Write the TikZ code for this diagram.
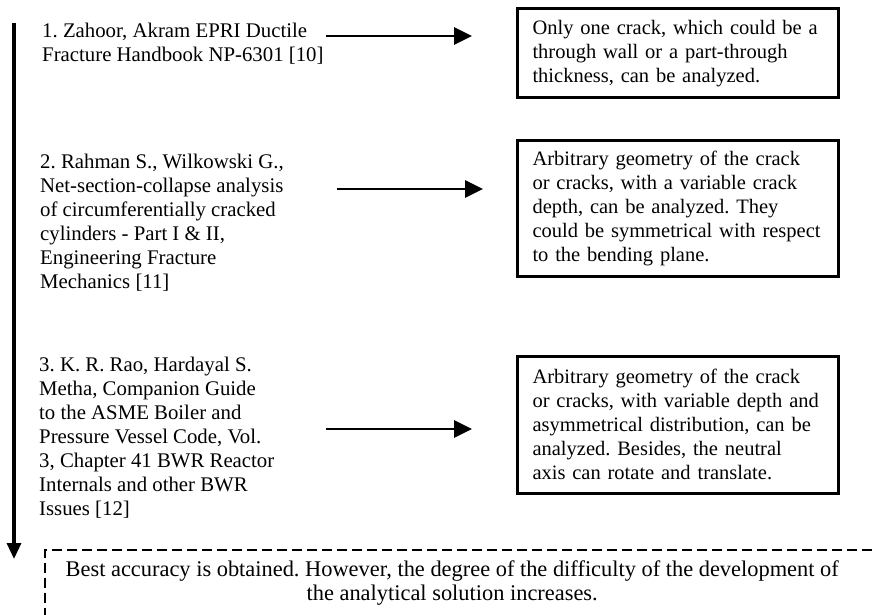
\documentclass[tikz,border=0pt]{standalone}
\usepackage{fontspec}
\setmainfont{Liberation Serif}
\usetikzlibrary{arrows.meta,positioning}
\frenchspacing

\begin{document}
\begin{tikzpicture}[
  x=1pt, y=1pt,
  txt/.style={font=\fontsize{20.5}{24}\selectfont},
  ref/.style={font=\fontsize{20.8}{24}\selectfont, anchor=north west, align=left, inner sep=0pt},
  resbox/.style={txt, draw, line width=3pt, anchor=north west, align=left, text width=290pt, inner xsep=15.5pt, inner ysep=0pt, minimum width=321pt},
  arr/.style={-{Triangle[length=18pt,width=17pt]}, line width=2.7pt},
  flow/.style={-{Triangle[length=16pt,width=14pt]}, line width=3.2pt},
  dashframe/.style={dash pattern=on 10pt off 5pt, line width=1.5pt}
]
\useasboundingbox (0,0) rectangle (872,-615);

% references on the left
\node[ref] (ref1) at (42,-23) {1. Zahoor, Akram EPRI Ductile\\ Fracture Handbook NP-6301 [10]};
\node[ref] (ref2) at (40,-154) {2. Rahman S., Wilkowski G.,\\ Net-section-collapse analysis\\ of circumferentially cracked\\ cylinders - Part I \& II,\\ Engineering Fracture\\ Mechanics [11]};
\node[ref] (ref3) at (39,-357) {3. K. R. Rao, Hardayal S.\\ Metha, Companion Guide\\ to the ASME Boiler and\\ Pressure Vessel Code, Vol.\\ 3, Chapter 41 BWR Reactor\\ Internals and other BWR\\ Issues [12]};

% what each method can handle
\node[resbox, minimum height=89pt] (box1) at (515.5,-7.5) {Only one crack, which could be a\\ through wall or a part-through\\ thickness, can be analyzed.};
\node[resbox, minimum height=136pt] (box2) at (515.5,-138.5) {Arbitrary geometry of the crack\\ or cracks, with a variable crack\\ depth, can be analyzed. They\\ could be symmetrical with respect\\ to the bending plane.};
\node[resbox, minimum height=137pt] (box3) at (515.5,-354.5) {Arbitrary geometry of the crack\\ or cracks, with variable depth and\\ asymmetrical distribution, can be\\ analyzed. Besides, the neutral\\ axis can rotate and translate.};

% conclusion, open frame
\node[font=\fontsize{22.4}{24}\selectfont, anchor=north west, align=center, inner sep=0pt, minimum width=814pt, minimum height=66pt] (best) at (45,-550) {Best accuracy is obtained. However, the degree of the difficulty of the development of\\ the analytical solution increases.};
\draw[dashframe] ([xshift=13pt]best.north east) -- (best.north west) -- (best.south west);

% arrows
\coordinate (a1) at (326,-36);
\coordinate (a2) at (337,-189);
\coordinate (a3) at (326,-429);
\draw[arr, shorten >=43.5pt] (a1) -- (a1 -| box1.west);
\draw[arr, shorten >=32.5pt] (a2) -- (a2 -| box2.west);
\draw[arr, shorten >=43.5pt] (a3) -- (a3 -| box3.west);

\coordinate (top) at (14,-23);
\coordinate (bottom) at (14,-559);
\draw[flow] (top) -- (bottom);
\end{tikzpicture}
\end{document}
